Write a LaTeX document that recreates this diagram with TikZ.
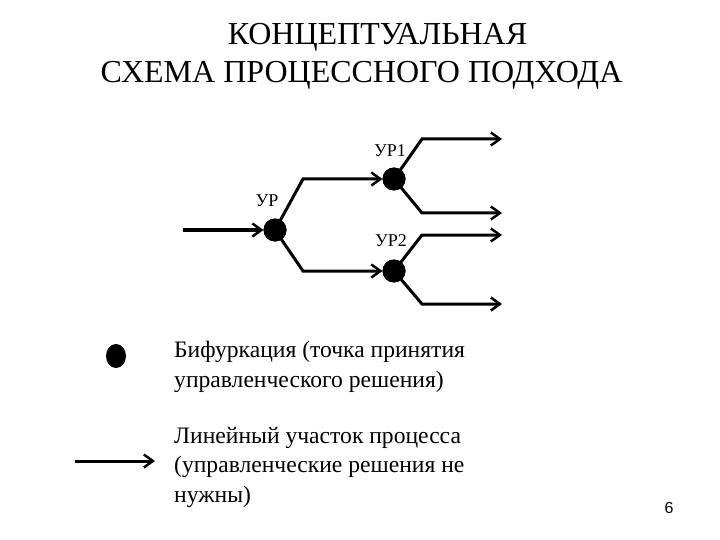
\documentclass[tikz,border=0pt]{standalone}
\usepackage{fontspec}
\setmainfont{Liberation Serif}
\setsansfont{Liberation Sans}
\usetikzlibrary{arrows.meta,shapes.geometric}
\begin{document}
\begin{tikzpicture}[x=1pt,y=-1pt,
  dot/.style={circle,fill=black,minimum size=23pt,inner sep=0pt,outer sep=0pt},
  flow/.style={line width=3pt,-{Straight Barb[length=9pt,width=13pt,line width=2.5pt]},line join=miter},
  lbl/.style={font=\fontsize{18}{20}\selectfont,inner sep=0pt},
  title/.style={font=\fontsize{32}{36}\selectfont,inner sep=0pt,anchor=base},
  legtext/.style={font=\fontsize{23.6}{29.5}\selectfont,inner sep=0pt,anchor=base west,align=left}]
\useasboundingbox (0,0) rectangle (720,540);
% title
\node[title] (t1) at (377.5,45) {КОНЦЕПТУАЛЬНАЯ};
\node[title] (t2) at (361.5,83) {СХЕМА ПРОЦЕССНОГО ПОДХОДА};
% decision points
\node[dot] (ur) at (275,230) {};
\node[dot] (ur1) at (394,179) {};
\node[dot] (ur2) at (394,271) {};
\node[lbl] (lur) at (267,201) {УР};
\node[lbl] (lur1) at (390,151) {УР1};
\node[lbl] (lur2) at (391,241) {УР2};
% bend points and free ends
\coordinate (in) at (183,230);
\coordinate (b1) at (303,179);
\coordinate (b2) at (303,271);
\coordinate (c1) at (422,139);
\coordinate (c2) at (422,213);
\coordinate (c3) at (422,235);
\coordinate (c4) at (422,304);
\coordinate (e1) at (502,139);
\coordinate (e2) at (502,213);
\coordinate (e3) at (502,235);
\coordinate (e4) at (502,304);
% connectors
\draw[flow] (in) -- (ur);
\draw[flow] (ur.center) -- (b1) -- (ur1);
\draw[flow] (ur.center) -- (b2) -- (ur2);
\draw[flow] (ur1.center) -- (c1) -- (e1);
\draw[flow] (ur1.center) -- (c2) -- (e2);
\draw[flow] (ur2.center) -- (c3) -- (e3);
\draw[flow] (ur2.center) -- (c4) -- (e4);
\node[dot] at (ur) {};
\node[dot] at (ur1) {};
\node[dot] at (ur2) {};
% legend
\node[ellipse,fill=black,minimum width=20pt,minimum height=24pt,inner sep=0pt] (ldot) at (116,356) {};
\node[legtext] (lt1) at (174,387) {Бифуркация (точка принятия\\управленческого решения)};
\coordinate (la) at (75,461);
\coordinate (lb) at (155,461);
\draw[flow] (la) -- (lb);
\node[legtext] (lt2) at (174,502) {Линейный участок процесса\\(управленческие решения не\\нужны)};
% page number
\node[font=\sffamily\fontsize{16}{19}\selectfont,inner sep=0pt] (pg) at (669,508) {6};
\end{tikzpicture}
\end{document}
